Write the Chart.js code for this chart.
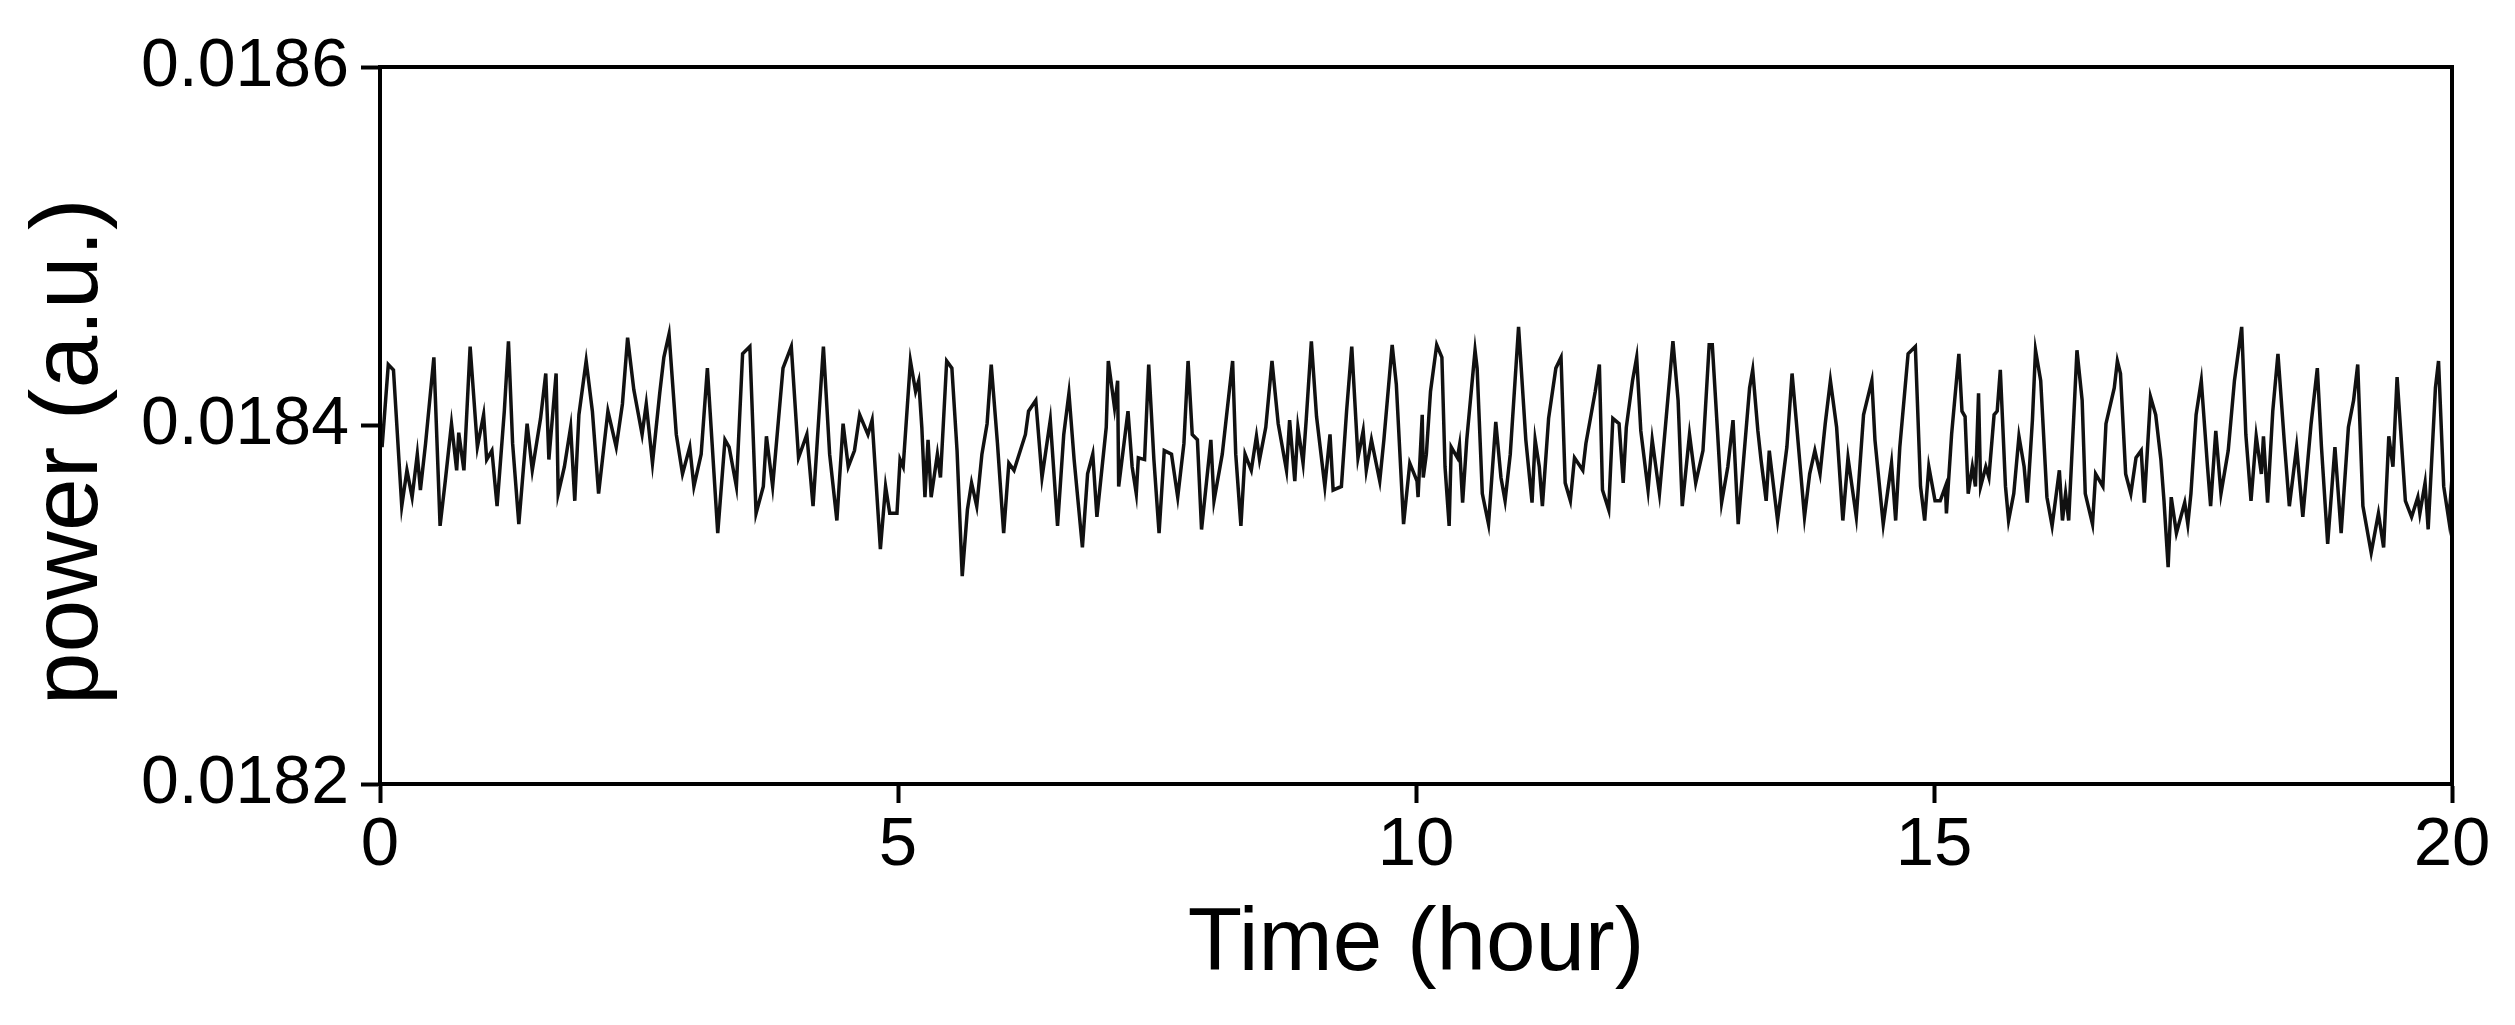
<!DOCTYPE html>
<html><head><meta charset="utf-8">
<script src="https://cdn.jsdelivr.net/npm/chart.js@4"></script>
<style>html,body{margin:0;padding:0;background:#fff;}canvas{display:block;}</style>
</head><body>
<canvas id="c" width="2515" height="1025"></canvas>
<script>
const timeHours = [0.00,0.02,0.08,0.13,0.21,0.26,0.31,0.36,0.39,0.44,0.52,0.58,0.63,0.69,0.74,0.76,0.81,0.87,0.94,1.00,1.03,1.08,1.13,1.20,1.24,1.28,1.34,1.42,1.47,1.55,1.60,1.63,1.70,1.72,1.78,1.84,1.88,1.92,1.99,2.05,2.11,2.20,2.28,2.34,2.39,2.45,2.53,2.57,2.63,2.70,2.74,2.79,2.86,2.92,2.99,3.03,3.10,3.16,3.26,3.33,3.37,3.44,3.50,3.57,3.63,3.70,3.73,3.79,3.89,3.97,4.04,4.12,4.18,4.28,4.34,4.41,4.47,4.52,4.58,4.63,4.71,4.75,4.83,4.88,4.92,
4.99,5.02,5.05,5.12,5.17,5.20,5.23,5.26,5.29,5.32,5.38,5.41,5.47,5.52,5.57,5.62,5.67,5.71,5.76,5.81,5.86,5.90,5.96,6.02,6.07,6.12,6.23,6.26,6.33,6.39,6.47,6.54,6.60,6.65,6.70,6.78,6.83,6.88,6.92,7.01,7.03,7.09,7.12,7.13,7.22,7.26,7.30,7.32,7.38,7.42,7.47,7.52,7.57,7.64,7.70,7.76,7.80,7.84,7.89,7.93,8.02,8.05,8.13,8.23,8.26,8.31,8.35,8.41,8.46,8.49,8.55,8.61,8.67,8.75,8.78,8.83,8.86,8.91,8.94,8.99,9.04,9.12,9.17,9.20,9.28,9.33,9.38,9.44,9.49,9.52,9.57,9.65,9.69,9.77,9.81,9.88,9.94,10.01,
10.02,10.06,10.07,10.10,10.14,10.20,10.25,10.28,10.32,10.34,10.40,10.42,10.45,10.49,10.57,10.59,10.64,10.70,10.77,10.82,10.86,10.91,10.99,11.06,11.12,11.15,11.19,11.22,11.28,11.35,11.40,11.44,11.49,11.53,11.61,11.64,11.69,11.73,11.77,11.80,11.86,11.90,11.96,12.00,12.03,12.09,12.13,12.17,12.24,12.28,12.35,12.41,12.48,12.53,12.57,12.64,12.70,12.77,12.83,12.86,12.91,12.95,13.01,13.06,13.11,13.22,13.25,13.30,13.33,13.38,13.41,13.49,13.58,13.63,13.67,13.75,13.80,13.85,13.90,13.95,14.00,14.06,14.12,14.17,14.25,14.32,14.40,14.43,14.51,14.59,14.63,14.67,14.75,14.82,14.87,14.91,14.95,15.01,
15.06,15.11,15.12,15.17,15.24,15.27,15.30,15.33,15.37,15.40,15.43,15.45,15.50,15.53,15.58,15.61,15.64,15.69,15.72,15.77,15.82,15.87,15.90,15.95,15.98,16.03,16.09,16.14,16.21,16.24,16.27,16.30,16.35,16.38,16.43,16.46,16.53,16.56,16.63,16.66,16.74,16.77,16.80,16.85,16.90,16.95,17.00,17.03,17.09,17.14,17.19,17.22,17.26,17.29,17.34,17.42,17.45,17.48,17.53,17.58,17.64,17.67,17.72,17.77,17.84,17.90,17.97,18.01,18.06,18.11,18.16,18.18,18.22,18.27,18.32,18.38,18.43,18.50,18.56,18.64,18.70,18.74,18.80,18.87,18.93,19.00,19.05,19.09,19.14,19.22,19.29,19.34,19.39,19.43,19.47,19.55,19.61,19.67,19.69,19.74,19.77,19.84,19.87,19.92,19.97,20.00];
const powerValues = [0.018400,0.018388,0.018434,0.018431,0.018355,0.018375,0.018360,0.018384,0.018364,0.018390,0.018438,0.018344,0.018369,0.018401,0.018375,0.018396,0.018375,0.018444,0.018388,0.018406,0.018381,0.018386,0.018355,0.018408,0.018447,0.018390,0.018345,0.018401,0.018375,0.018404,0.018429,0.018381,0.018429,0.018362,0.018377,0.018399,0.018358,0.018406,0.018436,0.018408,0.018362,0.018408,0.018388,0.018412,0.018449,0.018420,0.018395,0.018412,0.018379,0.018418,0.018438,0.018451,0.018395,0.018373,0.018388,0.018366,0.018384,0.018432,0.018340,0.018392,0.018388,0.018366,0.018440,0.018444,0.018351,0.018366,0.018394,0.018366,0.018432,0.018444,0.018382,0.018395,0.018355,0.018444,0.018384,0.018347,0.018401,0.018377,0.018386,0.018406,0.018395,0.018403,0.018331,0.018366,0.018351,
0.018351,0.018381,0.018377,0.018436,0.018419,0.018425,0.018399,0.018360,0.018392,0.018360,0.018384,0.018371,0.018436,0.018432,0.018386,0.018316,0.018353,0.018368,0.018355,0.018384,0.018401,0.018434,0.018390,0.018340,0.018379,0.018375,0.018395,0.018408,0.018414,0.018371,0.018403,0.018344,0.018395,0.018418,0.018381,0.018332,0.018373,0.018384,0.018349,0.018399,0.018436,0.018410,0.018425,0.018366,0.018408,0.018377,0.018362,0.018382,0.018381,0.018434,0.018381,0.018340,0.018386,0.018384,0.018360,0.018390,0.018436,0.018395,0.018392,0.018342,0.018392,0.018358,0.018384,0.018436,0.018384,0.018344,0.018384,0.018375,0.018394,0.018381,0.018399,0.018436,0.018401,0.018375,0.018403,0.018369,0.018399,0.018379,0.018403,0.018447,0.018405,0.018366,0.018395,0.018364,0.018366,0.018408,0.018444,0.018382,0.018397,0.018375,0.018392,0.018369,0.018392,0.018445,0.018423,0.018345,0.018379,0.018369,
0.018360,0.018406,0.018371,0.018384,0.018419,0.018445,0.018438,0.018377,0.018344,0.018388,0.018382,0.018389,0.018357,0.018392,0.018442,0.018432,0.018362,0.018345,0.018402,0.018371,0.018358,0.018384,0.018455,0.018392,0.018357,0.018392,0.018377,0.018355,0.018404,0.018432,0.018438,0.018368,0.018358,0.018382,0.018375,0.018390,0.018406,0.018419,0.018434,0.018364,0.018353,0.018404,0.018401,0.018368,0.018399,0.018425,0.018438,0.018397,0.018364,0.018392,0.018362,0.018401,0.018447,0.018414,0.018355,0.018395,0.018368,0.018386,0.018445,0.018445,0.018397,0.018357,0.018377,0.018403,0.018345,0.018421,0.018431,0.018397,0.018381,0.018358,0.018386,0.018347,0.018388,0.018429,0.018403,0.018349,0.018373,0.018386,0.018373,0.018401,0.018425,0.018399,0.018347,0.018382,0.018349,0.018406,0.018425,0.018392,0.018345,0.018379,0.018347,0.018388,0.018440,0.018444,0.018366,0.018347,0.018377,0.018358,
0.018358,0.018366,0.018351,0.018395,0.018440,0.018408,0.018405,0.018362,0.018377,0.018366,0.018418,0.018366,0.018377,0.018371,0.018406,0.018408,0.018431,0.018366,0.018347,0.018362,0.018394,0.018377,0.018357,0.018403,0.018442,0.018425,0.018360,0.018344,0.018375,0.018347,0.018362,0.018347,0.018406,0.018442,0.018414,0.018362,0.018345,0.018373,0.018366,0.018401,0.018421,0.018436,0.018429,0.018373,0.018362,0.018382,0.018386,0.018357,0.018416,0.018406,0.018381,0.018358,0.018321,0.018360,0.018340,0.018357,0.018345,0.018362,0.018406,0.018425,0.018377,0.018355,0.018397,0.018362,0.018386,0.018425,0.018455,0.018395,0.018358,0.018394,0.018373,0.018394,0.018357,0.018408,0.018440,0.018392,0.018355,0.018388,0.018349,0.018401,0.018432,0.018388,0.018334,0.018388,0.018340,0.018399,0.018414,0.018434,0.018355,0.018329,0.018351,0.018332,0.018394,0.018377,0.018427,0.018358,0.018349,0.018360,0.018351,0.018368,0.018342,0.018421,0.018436,0.018366,0.018347,0.018371];
const xTicks = [0, 5, 10, 15, 20];
const yTicks = [0.0182, 0.0184, 0.0186];

const points = timeHours.map((t, i) => ({x: t, y: powerValues[i]}));
const FONT = 'Liberation Sans, Arial, sans-serif';

const frame = {
  id: 'frame',
  afterDraw(chart) {
    const {ctx, chartArea: a} = chart;
    ctx.save();
    ctx.strokeStyle = '#000';
    ctx.lineWidth = 4;
    ctx.strokeRect(a.left, a.top, a.right - a.left, a.bottom - a.top);
    ctx.restore();
  }
};

new Chart(document.getElementById('c'), {
  type: 'line',
  data: { datasets: [{ data: points, borderColor: '#111', borderWidth: 3.5, pointRadius: 0, tension: 0, fill: false }] },
  options: {
    responsive: false, animation: false, devicePixelRatio: 1,
    layout: { padding: { top: 67, right: 63, left: 0, bottom: 0 } },
    plugins: { legend: { display: false }, tooltip: { enabled: false } },
    scales: {
      x: {
        type: 'linear', min: 0, max: 20,
        afterBuildTicks: s => { s.ticks = xTicks.map(v => ({value: v})); },
        afterFit: s => { s.height = 241; },
        grid: { display: true, drawOnChartArea: false, drawTicks: true, tickLength: 19, tickWidth: 4, color: '#000' },
        border: { display: true, width: 4, color: '#000' },
        ticks: { color: '#000', font: { family: FONT, size: 69, lineHeight: 1 }, padding: 8, maxRotation: 0 },
        title: { display: true, text: 'Time (hour)', color: '#000', font: { family: FONT, size: 89, lineHeight: 1 }, padding: { top: 0, bottom: 35 } }
      },
      y: {
        type: 'linear', min: 0.0182, max: 0.0186,
        afterBuildTicks: s => { s.ticks = yTicks.map(v => ({value: v})); },
        afterFit: s => { s.width = 380; },
        grid: { display: true, drawOnChartArea: false, drawTicks: true, tickLength: 19, tickWidth: 4, color: '#000' },
        border: { display: true, width: 4, color: '#000' },
        ticks: { color: '#000', font: { family: FONT, size: 68, lineHeight: 1 }, padding: 12, callback: v => v.toFixed(4) },
        title: { display: true, text: 'power (a.u.)  ', color: '#000', font: { family: FONT, size: 95, lineHeight: 1.2 }, padding: { top: 14, bottom: 0 } }
      }
    }
  },
  plugins: [frame]
});
</script>
</body></html>
